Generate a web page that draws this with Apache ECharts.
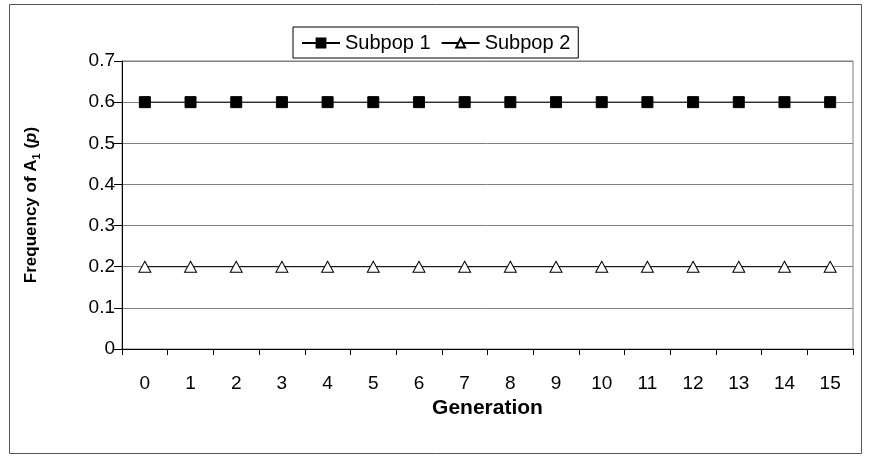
<!DOCTYPE html>
<html>
<head>
<meta charset="utf-8">
<script src="https://cdn.jsdelivr.net/npm/echarts@6/dist/echarts.min.js"></script>
<style>
  html, body { margin: 0; padding: 0; background: #fff; }
  #chart { width: 869px; height: 460px; }
</style>
</head>
<body>
<div id="chart"></div>
<script>
// data
const generations = ['0', '1', '2', '3', '4', '5', '6', '7', '8', '9', '10', '11', '12', '13', '14', '15'];
const subpop1 = [0.6, 0.6, 0.6, 0.6, 0.6, 0.6, 0.6, 0.6, 0.6, 0.6, 0.6, 0.6, 0.6, 0.6, 0.6, 0.6];
const subpop2 = [0.2, 0.2, 0.2, 0.2, 0.2, 0.2, 0.2, 0.2, 0.2, 0.2, 0.2, 0.2, 0.2, 0.2, 0.2, 0.2];
const seriesNames = ['Subpop 1', 'Subpop 2'];

const font = 'Liberation Sans, Arial, sans-serif';
const chart = echarts.init(document.getElementById('chart'));

chart.setOption({
  backgroundColor: '#fff',
  animation: false,
  textStyle: { fontFamily: font },
  graphic: [{
    type: 'rect',
    shape: { x: 9.5, y: 4.5, width: 852, height: 449 },
    style: { fill: 'none', stroke: '#555', lineWidth: 1 },
    silent: true
  }],
  legend: {
    left: 293,
    top: 27,
    padding: [6, 8, 5, 8],
    itemGap: 10,
    itemWidth: 38,
    itemHeight: 11,
    borderColor: '#000',
    borderWidth: 1,
    textStyle: { fontFamily: font, fontSize: 20, color: '#000' },
    data: seriesNames
  },
  grid: {
    left: 122, right: 16, top: 61, bottom: 111,
    show: true, borderColor: '#808080', borderWidth: 1
  },
  xAxis: {
    type: 'category',
    data: generations,
    boundaryGap: true,
    name: 'Generation',
    nameLocation: 'middle',
    nameGap: 37,
    nameTextStyle: { fontFamily: font, fontSize: 21, fontWeight: 'bold', color: '#000' },
    axisLine: { lineStyle: { color: '#000', width: 1 } },
    axisTick: { show: true, inside: false, length: 6, lineStyle: { color: '#000' }, alignWithLabel: false },
    axisLabel: { color: '#000', fontSize: 19, margin: 25, fontFamily: font },
    splitLine: { show: false }
  },
  yAxis: {
    type: 'value',
    min: 0,
    max: 0.7,
    interval: 0.1,
    name: '{b|Frequency of A}{s|1}{b| (}{i|p}{b|)}',
    nameLocation: 'middle',
    nameGap: 80,
    nameRotate: 90,
    nameTextStyle: {
      rich: {
        b: { fontFamily: font, fontSize: 17, fontWeight: 'bold', color: '#000', lineHeight: 22 },
        i: { fontFamily: font, fontSize: 17, fontWeight: 'bold', fontStyle: 'italic', color: '#000', lineHeight: 22 },
        s: { fontFamily: font, fontSize: 11, fontWeight: 'bold', color: '#000', verticalAlign: 'bottom', lineHeight: 14, padding: [8, 0, 0, 0] }
      }
    },
    axisLine: { show: true, lineStyle: { color: '#000', width: 1 } },
    axisTick: { show: true, inside: false, length: 8, lineStyle: { color: '#000' } },
    axisLabel: { color: '#000', fontSize: 19, margin: 7, fontFamily: font },
    splitLine: { show: true, lineStyle: { color: '#808080', width: 1 } }
  },
  series: [
    {
      name: seriesNames[0],
      type: 'line',
      data: subpop1,
      symbol: 'rect',
      symbolSize: 11,
      lineStyle: { color: '#000', width: 1 },
      itemStyle: { color: '#000', borderColor: '#000', borderWidth: 1 },
      z: 3
    },
    {
      name: seriesNames[1],
      type: 'line',
      data: subpop2,
      symbol: 'triangle',
      symbolSize: [12, 11],
      lineStyle: { color: '#000', width: 1 },
      itemStyle: { color: '#fff', borderColor: '#000', borderWidth: 1 },
      z: 3
    }
  ]
});
</script>
</body>
</html>
